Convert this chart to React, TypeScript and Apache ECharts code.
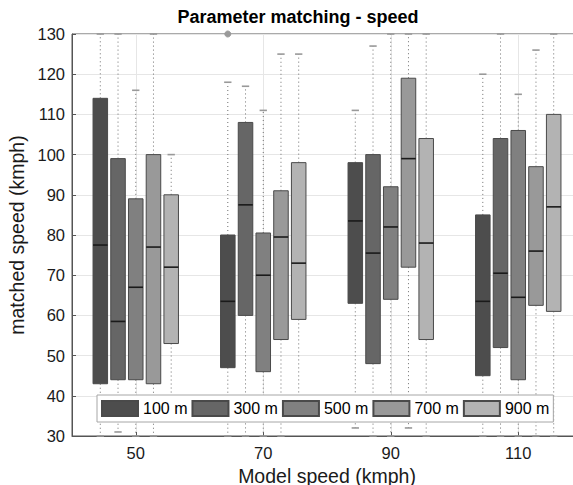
import React, { useEffect, useRef } from 'react';
import * as echarts from 'echarts';

const speeds = [50, 70, 90, 110];
const distances = ['100 m', '300 m', '500 m', '700 m', '900 m'];
// [lower whisker, Q1, median, Q3, upper whisker] for each model speed
const box100 = [[30, 43, 77.5, 114, 130], [30, 47, 63.5, 80, 118], [32, 63, 83.5, 98, 111], [30, 45, 63.5, 85, 120]];
const box300 = [[31, 44, 58.5, 99, 130], [30, 60, 87.5, 108, 117], [30, 48, 75.5, 100, 127], [30, 52, 70.5, 104, 130]];
const box500 = [[30, 44, 67, 89, 116], [30, 46, 70, 80.5, 111], [30, 64, 82, 92, 130], [30, 44, 64.5, 106, 115]];
const box700 = [[30, 43, 77, 100, 130], [30, 54, 79.5, 91, 125], [32, 72, 99, 119, 130], [30, 62.5, 76, 97, 126]];
const box900 = [[37, 53, 72, 90, 100], [37, 59, 73, 98, 125], [30, 54, 78, 104, 130], [30, 61, 87, 110, 130]];
const outliers100 = [[], [130], [], []];
const outliers300 = [[], [], [], []];
const outliers500 = [[], [], [], []];
const outliers700 = [[], [], [], []];
const outliers900 = [[], [], [], []];
const yTicks = [30, 40, 50, 60, 70, 80, 90, 100, 110, 120, 130];

const boxes = [box100, box300, box500, box700, box900];
const outliers = [outliers100, outliers300, outliers500, outliers700, outliers900];
const fills = ['#4d4d4d', '#666666', '#808080', '#999999', '#b3b3b3'];

const OFFSET = 2.78;
const BOXW = 2.28;
const CAPW = 1.15;
const FONT = '"Liberation Sans", Arial, Helvetica, sans-serif';

function makeRender(si: number) {
  return (params: any, api: any) => {
    const x = api.value(0) + (si - 2) * OFFSET;
    const lo = api.value(1), q1 = api.value(2), med = api.value(3), q3 = api.value(4), hi = api.value(5);
    const pLo = api.coord([x, lo]);
    const pQ1 = api.coord([x, q1]);
    const pMed = api.coord([x, med]);
    const pQ3 = api.coord([x, q3]);
    const pHi = api.coord([x, hi]);
    const halfW = api.size([BOXW, 0])[0] / 2;
    const capHalf = api.size([CAPW, 0])[0] / 2;
    const cx = pMed[0];
    const whiskerStyle = { stroke: '#6e6e6e', lineWidth: 1, lineDash: [1, 3] };
    const capStyle = { stroke: '#999999', lineWidth: 1.6 };
    const children: any[] = [
      { type: 'line', shape: { x1: cx, y1: pQ3[1], x2: cx, y2: pHi[1] }, style: whiskerStyle },
      { type: 'line', shape: { x1: cx, y1: pQ1[1], x2: cx, y2: pLo[1] }, style: whiskerStyle },
      { type: 'line', shape: { x1: cx - capHalf, y1: pHi[1], x2: cx + capHalf, y2: pHi[1] }, style: capStyle },
      { type: 'line', shape: { x1: cx - capHalf, y1: pLo[1], x2: cx + capHalf, y2: pLo[1] }, style: capStyle },
      {
        type: 'rect',
        shape: { x: cx - halfW, y: pQ3[1], width: halfW * 2, height: pQ1[1] - pQ3[1] },
        style: { fill: fills[si], stroke: '#4a4a4a', lineWidth: 1 },
      },
      { type: 'line', shape: { x1: cx - halfW, y1: pMed[1], x2: cx + halfW, y2: pMed[1] }, style: { stroke: '#1a1a1a', lineWidth: 1.6 } },
    ];
    const outs = outliers[si][params.dataIndex] || [];
    outs.forEach((v: number) => {
      const p = api.coord([x, v]);
      children.push({ type: 'circle', shape: { cx: p[0], cy: p[1], r: 3 }, style: { fill: '#9a9a9a', stroke: '#9a9a9a' } });
    });
    return { type: 'group', children };
  };
}

export default function App() {
  const ref = useRef<HTMLDivElement>(null);
  useEffect(() => {
    if (!ref.current) return;
    const chart = echarts.init(ref.current, undefined, { renderer: 'svg' });
    const series = distances.map((name, si) => ({
      name,
      type: 'custom',
      renderItem: makeRender(si),
      itemStyle: { color: fills[si], borderColor: '#4a4a4a', borderWidth: 1 },
      encode: { x: 0, y: [1, 2, 3, 4, 5] },
      data: speeds.map((s, i) => [s, ...boxes[si][i]]),
      clip: false,
      z: 2,
    }));
    chart.setOption({
      animation: false,
      backgroundColor: '#ffffff',
      textStyle: { fontFamily: FONT },
      title: {
        text: 'Parameter matching - speed',
        left: 298,
        top: 7,
        padding: 0,
        textAlign: 'center',
        textStyle: { fontFamily: FONT, fontSize: 18, fontWeight: 'bold', color: '#000000', lineHeight: 20 },
      },
      legend: {
        data: distances,
        left: 97,
        top: 395,
        orient: 'horizontal',
        icon: 'rect',
        itemWidth: 36,
        itemHeight: 15,
        itemGap: 4,
        padding: [5, 4, 5, 4],
        backgroundColor: '#ffffff',
        borderColor: '#a6a6a6',
        borderWidth: 1,
        borderRadius: 0,
        selectedMode: false,
        textStyle: { fontFamily: FONT, fontSize: 16, color: '#000000', lineHeight: 16 },
        z: 10,
      },
      grid: {
        left: 72,
        right: -9,
        top: 34,
        bottom: 49,
        outerBoundsMode: 'none',
        containLabel: false,
        show: true,
        borderColor: '#555555',
        borderWidth: 1,
        backgroundColor: '#ffffff',
      },
      xAxis: {
        type: 'value',
        min: 40,
        max: 120,
        name: 'Model speed (kmph)',
        nameLocation: 'middle',
        nameGap: 28,
        nameTextStyle: { fontFamily: FONT, fontSize: 19.5, color: '#1a1a1a', lineHeight: 19 },
        axisLine: { show: true, onZero: false, lineStyle: { color: '#555555' } },
        axisTick: { show: true, inside: true, length: 4, customValues: speeds, lineStyle: { color: '#555555' } },
        axisLabel: { customValues: speeds, fontFamily: FONT, fontSize: 16.5, color: '#1a1a1a', margin: 8 },
        splitLine: { show: true, lineStyle: { color: '#e6e6e6', width: 1 } },
      },
      yAxis: {
        type: 'value',
        min: 30,
        max: 130,
        interval: 10,
        name: 'matched speed (kmph)',
        nameLocation: 'middle',
        nameGap: 38,
        nameTextStyle: { fontFamily: FONT, fontSize: 19.5, color: '#1a1a1a' },
        axisLine: { show: true, lineStyle: { color: '#555555' } },
        axisTick: { show: true, inside: true, length: 4, lineStyle: { color: '#555555' } },
        axisLabel: {
          fontFamily: FONT,
          fontSize: 16.5,
          color: '#1a1a1a',
          margin: 7,
          formatter: (v: number) => (yTicks.includes(v) ? String(v) : ''),
        },
        splitLine: { show: true, lineStyle: { color: '#e6e6e6', width: 1 } },
      },
      series,
    });
    return () => chart.dispose();
  }, []);
  return <div ref={ref} style={{ width: 573, height: 485, position: 'absolute', left: 0, top: 0 }} />;
}
